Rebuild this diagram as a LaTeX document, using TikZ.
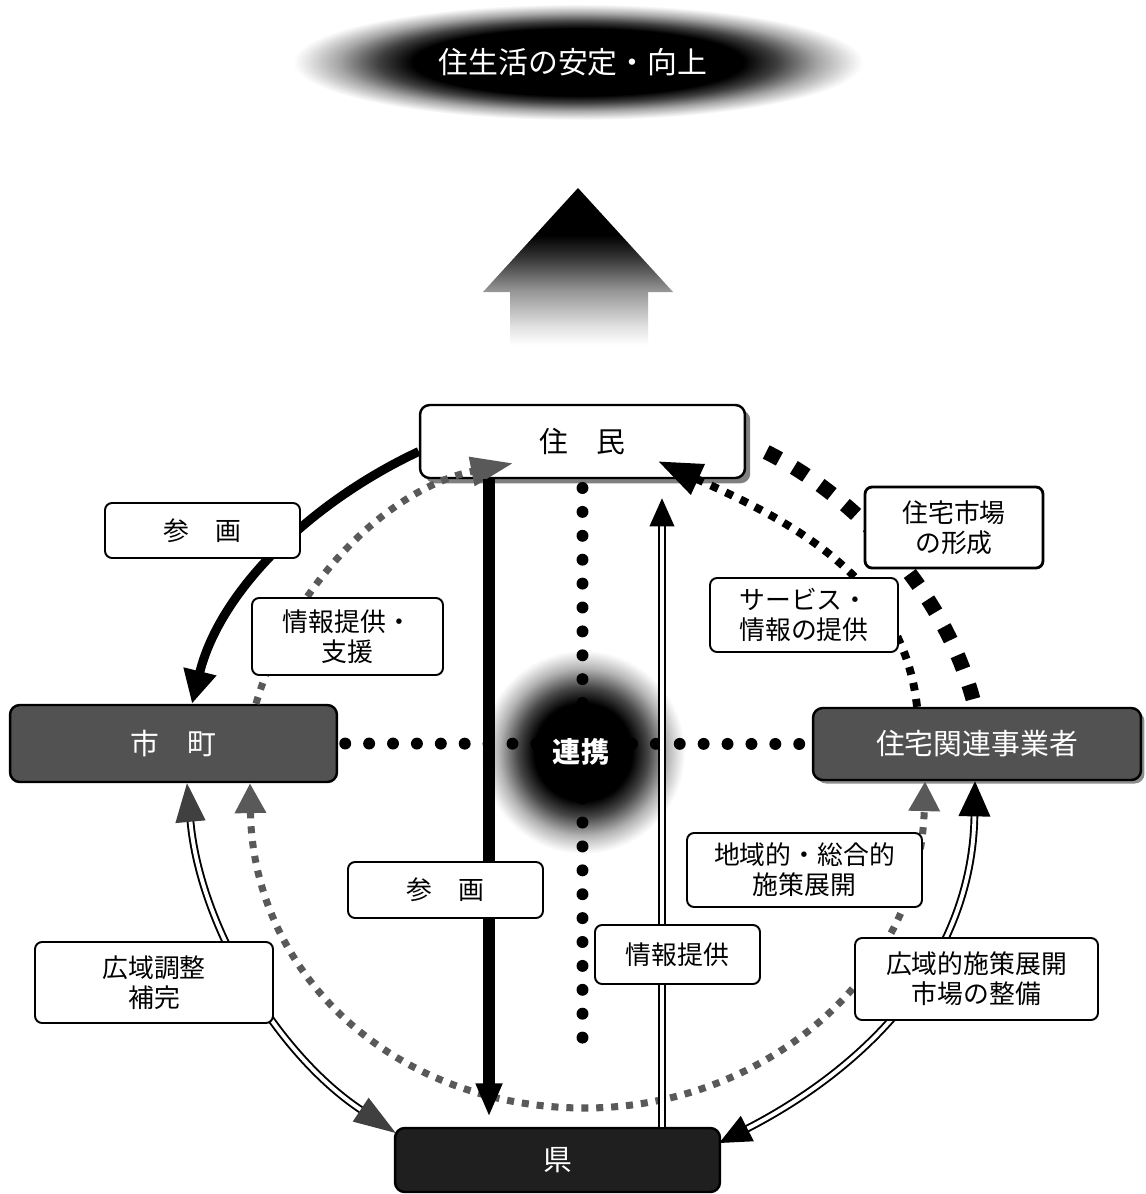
\documentclass[tikz,border=0pt]{standalone}
\usepackage{fontspec}
\newfontfamily\jp{Noto Sans CJK JP}
\usetikzlibrary{arrows.meta,shadows}
\pgfdeclareradialshading{glow}{\pgfpoint{0bp}{0bp}}{color(0bp)=(black); color(12bp)=(black); color(16bp)=(black!72); color(20.5bp)=(black!30); color(24bp)=(black!6); color(25bp)=(white); color(50bp)=(white)}
\pgfdeclareradialshading{goalglow}{\pgfpoint{0bp}{0bp}}{color(0bp)=(black); color(14.5bp)=(black); color(17.5bp)=(black!75); color(21bp)=(black!35); color(24bp)=(black!8); color(25bp)=(white); color(50bp)=(white)}
\pgfdeclareverticalshading{fadeup}{100bp}{color(0bp)=(white); color(25bp)=(white); color(31bp)=(black!12); color(42.5bp)=(black!42); color(52.5bp)=(black!78); color(60bp)=(black); color(100bp)=(black)}
\begin{document}
\begin{tikzpicture}[x=0.02cm,y=-0.02cm,
  mainbox/.style={draw=black, line width=1.4pt, rounded corners=5.5pt, minimum width=6.5cm, minimum height=1.46cm, inner sep=0pt, font=\jp\fontsize{16.4}{19}\selectfont},
  darkbox/.style={mainbox, fill=black!68, text=white},
  lbl/.style={draw=black, line width=1.1pt, fill=white, rounded corners=4pt, inner sep=0pt, align=center, font=\jp\fontsize{14.7}{17}\selectfont},
  thickarc/.style={line width=5.1pt, -{Triangle[length=19pt,width=18pt]}},
  thickv/.style={line width=6.8pt, -{Triangle[length=19pt,width=14pt]}},
  dbl/.style={double=white, double distance=2.2pt, line width=1.1pt},
  graysq/.style={draw=black!65, line width=4pt, dash pattern=on 4pt off 4.5pt},
  blacksq/.style={draw=black, line width=4.5pt, dash pattern=on 4.5pt off 4.8pt},
  bigsq/.style={draw=black, line width=8.5pt, dash pattern=on 8.5pt off 9.5pt},
  rdots/.style={draw=black, line width=6.8pt, line cap=round, dash pattern=on 0pt off 13.6pt}
]
\useasboundingbox (0,0) rectangle (1146,1194);
\fill[white] (0,0) rectangle (1146,1194);

% goal cloud
\shade[shading=goalglow] (578,62) ellipse [x radius=285, y radius=58];
\node[font=\jp\fontsize{17}{20}\selectfont, text=white] (goal) at (573,62) {住生活の安定・向上};

% big upward arrow
\shade[shading=fadeup] (578,188) -- (673,292) -- (648,292) -- (648,345) -- (510,345) -- (510,292) -- (483,292) -- cycle;

% centre glow
\shade[shading=glow] (583,752) circle [radius=102];

% main boxes
\node[mainbox, fill=white, drop shadow={shadow xshift=3pt, shadow yshift=-3pt, fill=black!50, opacity=1}] (jumin) at (582.5,441.5) {住　民};
\node[darkbox, minimum width=6.54cm, minimum height=1.54cm] (shicho) at (173.5,743.5) {市　町};
\node[darkbox, minimum width=6.56cm, minimum height=1.44cm, drop shadow={shadow xshift=2pt, shadow yshift=-2pt, fill=black!45, opacity=1}] (jutaku) at (977,744) {住宅関連事業者};
\node[darkbox, fill=black!88, minimum width=6.5cm, minimum height=1.28cm] (ken) at (557.5,1160) {県};

\coordinate (dotend) at (582.5,1050);

% dotted cooperation lines
\draw[rdots, shorten <=4pt, shorten >=6pt] (shicho.east) -- (jutaku.west);
\draw[rdots, shorten <=5pt] (jumin.south) -- (dotend);

% outer arcs
\draw[thickarc] ([yshift=-0.2cm]jumin.west) .. controls (311,502) and (220,590) .. ([xshift=0.37cm]shicho.north);
\draw[bigsq] ([xshift=0.4cm,yshift=-0.21cm]jumin.east) .. controls (862,500) and (948,598) .. ([xshift=-0.04cm]jutaku.north);
\draw[dbl, {Triangle[length=22pt,width=17pt,color=black!75,fill=black!75]}-{Triangle[length=24pt,width=16pt,color=black!75,fill=black!75]}]
  ([xshift=0.27cm]shicho.south) .. controls (200,926) and (277,1054) .. ([xshift=0.04cm,yshift=0.54cm]ken.west);
\draw[dbl, {Triangle[length=20pt,width=18pt]}-{Triangle[length=18pt,width=16pt]}]
  ([xshift=-0.04cm]jutaku.south) .. controls (972,962) and (865,1068) .. ([xshift=-0.04cm,yshift=0.34cm]ken.east);

% inner arcs
\draw[graysq, -{Triangle[length=24pt,width=16pt,color=black!65,fill=black!65]}]
  ([xshift=1.65cm]shicho.north) .. controls (291,584) and (389,488) .. ([xshift=-1.39cm,yshift=0.32cm]jumin.south);
\draw[graysq, {Triangle[length=17pt,width=17pt,color=black!65,fill=black!65]}-{Triangle[length=17pt,width=17pt,color=black!65,fill=black!65]}]
  ([xshift=1.53cm]shicho.south) .. controls (253,975) and (395,1108) .. (585,1108) .. controls (765,1108) and (920,975) .. ([xshift=-1.04cm]jutaku.south);
\draw[blacksq, -{Triangle[length=25pt,width=18pt]}]
  ([xshift=-1.2cm]jutaku.north) .. controls (903,573) and (780,517) .. ([xshift=1.51cm,yshift=0.36cm]jumin.south);

% vertical arrows
\draw[thickv] ([xshift=-1.87cm]jumin.south) -- ([xshift=-1.37cm,yshift=0.2cm]ken.north);
\draw[dbl, -{Triangle[length=16pt,width=14pt]}] ([xshift=2.09cm]ken.north) -- ([xshift=1.59cm,yshift=-0.38cm]jumin.south);

\node[font=\jp\bfseries\fontsize{16}{19}\selectfont, text=white] (renkei) at (581,752) {連携};

% labels
\node[lbl, minimum width=3.9cm, minimum height=1.1cm] (l1) at (202.5,530.5) {参　画};
\node[lbl, minimum width=3.82cm, minimum height=1.54cm] (l2) at (347.5,636.5) {情報提供・\\支援};
\node[lbl, line width=1.6pt, minimum width=3.56cm, minimum height=1.62cm] (l3) at (954,527.5) {住宅市場\\の形成};
\node[lbl, minimum width=3.76cm, minimum height=1.48cm] (l4) at (804,615) {サービス・\\情報の提供};
\node[lbl, minimum width=3.9cm, minimum height=1.12cm] (l5) at (445.5,890) {参　画};
\node[lbl, minimum width=3.3cm, minimum height=1.18cm] (l6) at (677.5,954.5) {情報提供};
\node[lbl, minimum width=4.7cm, minimum height=1.48cm] (l7) at (804.5,870) {地域的・総合的\\施策展開};
\node[lbl, minimum width=4.76cm, minimum height=1.62cm] (l8) at (154,982.5) {広域調整\\補完};
\node[lbl, minimum width=4.86cm, minimum height=1.64cm] (l9) at (976.5,979) {広域的施策展開\\市場の整備};
\end{tikzpicture}
\end{document}
